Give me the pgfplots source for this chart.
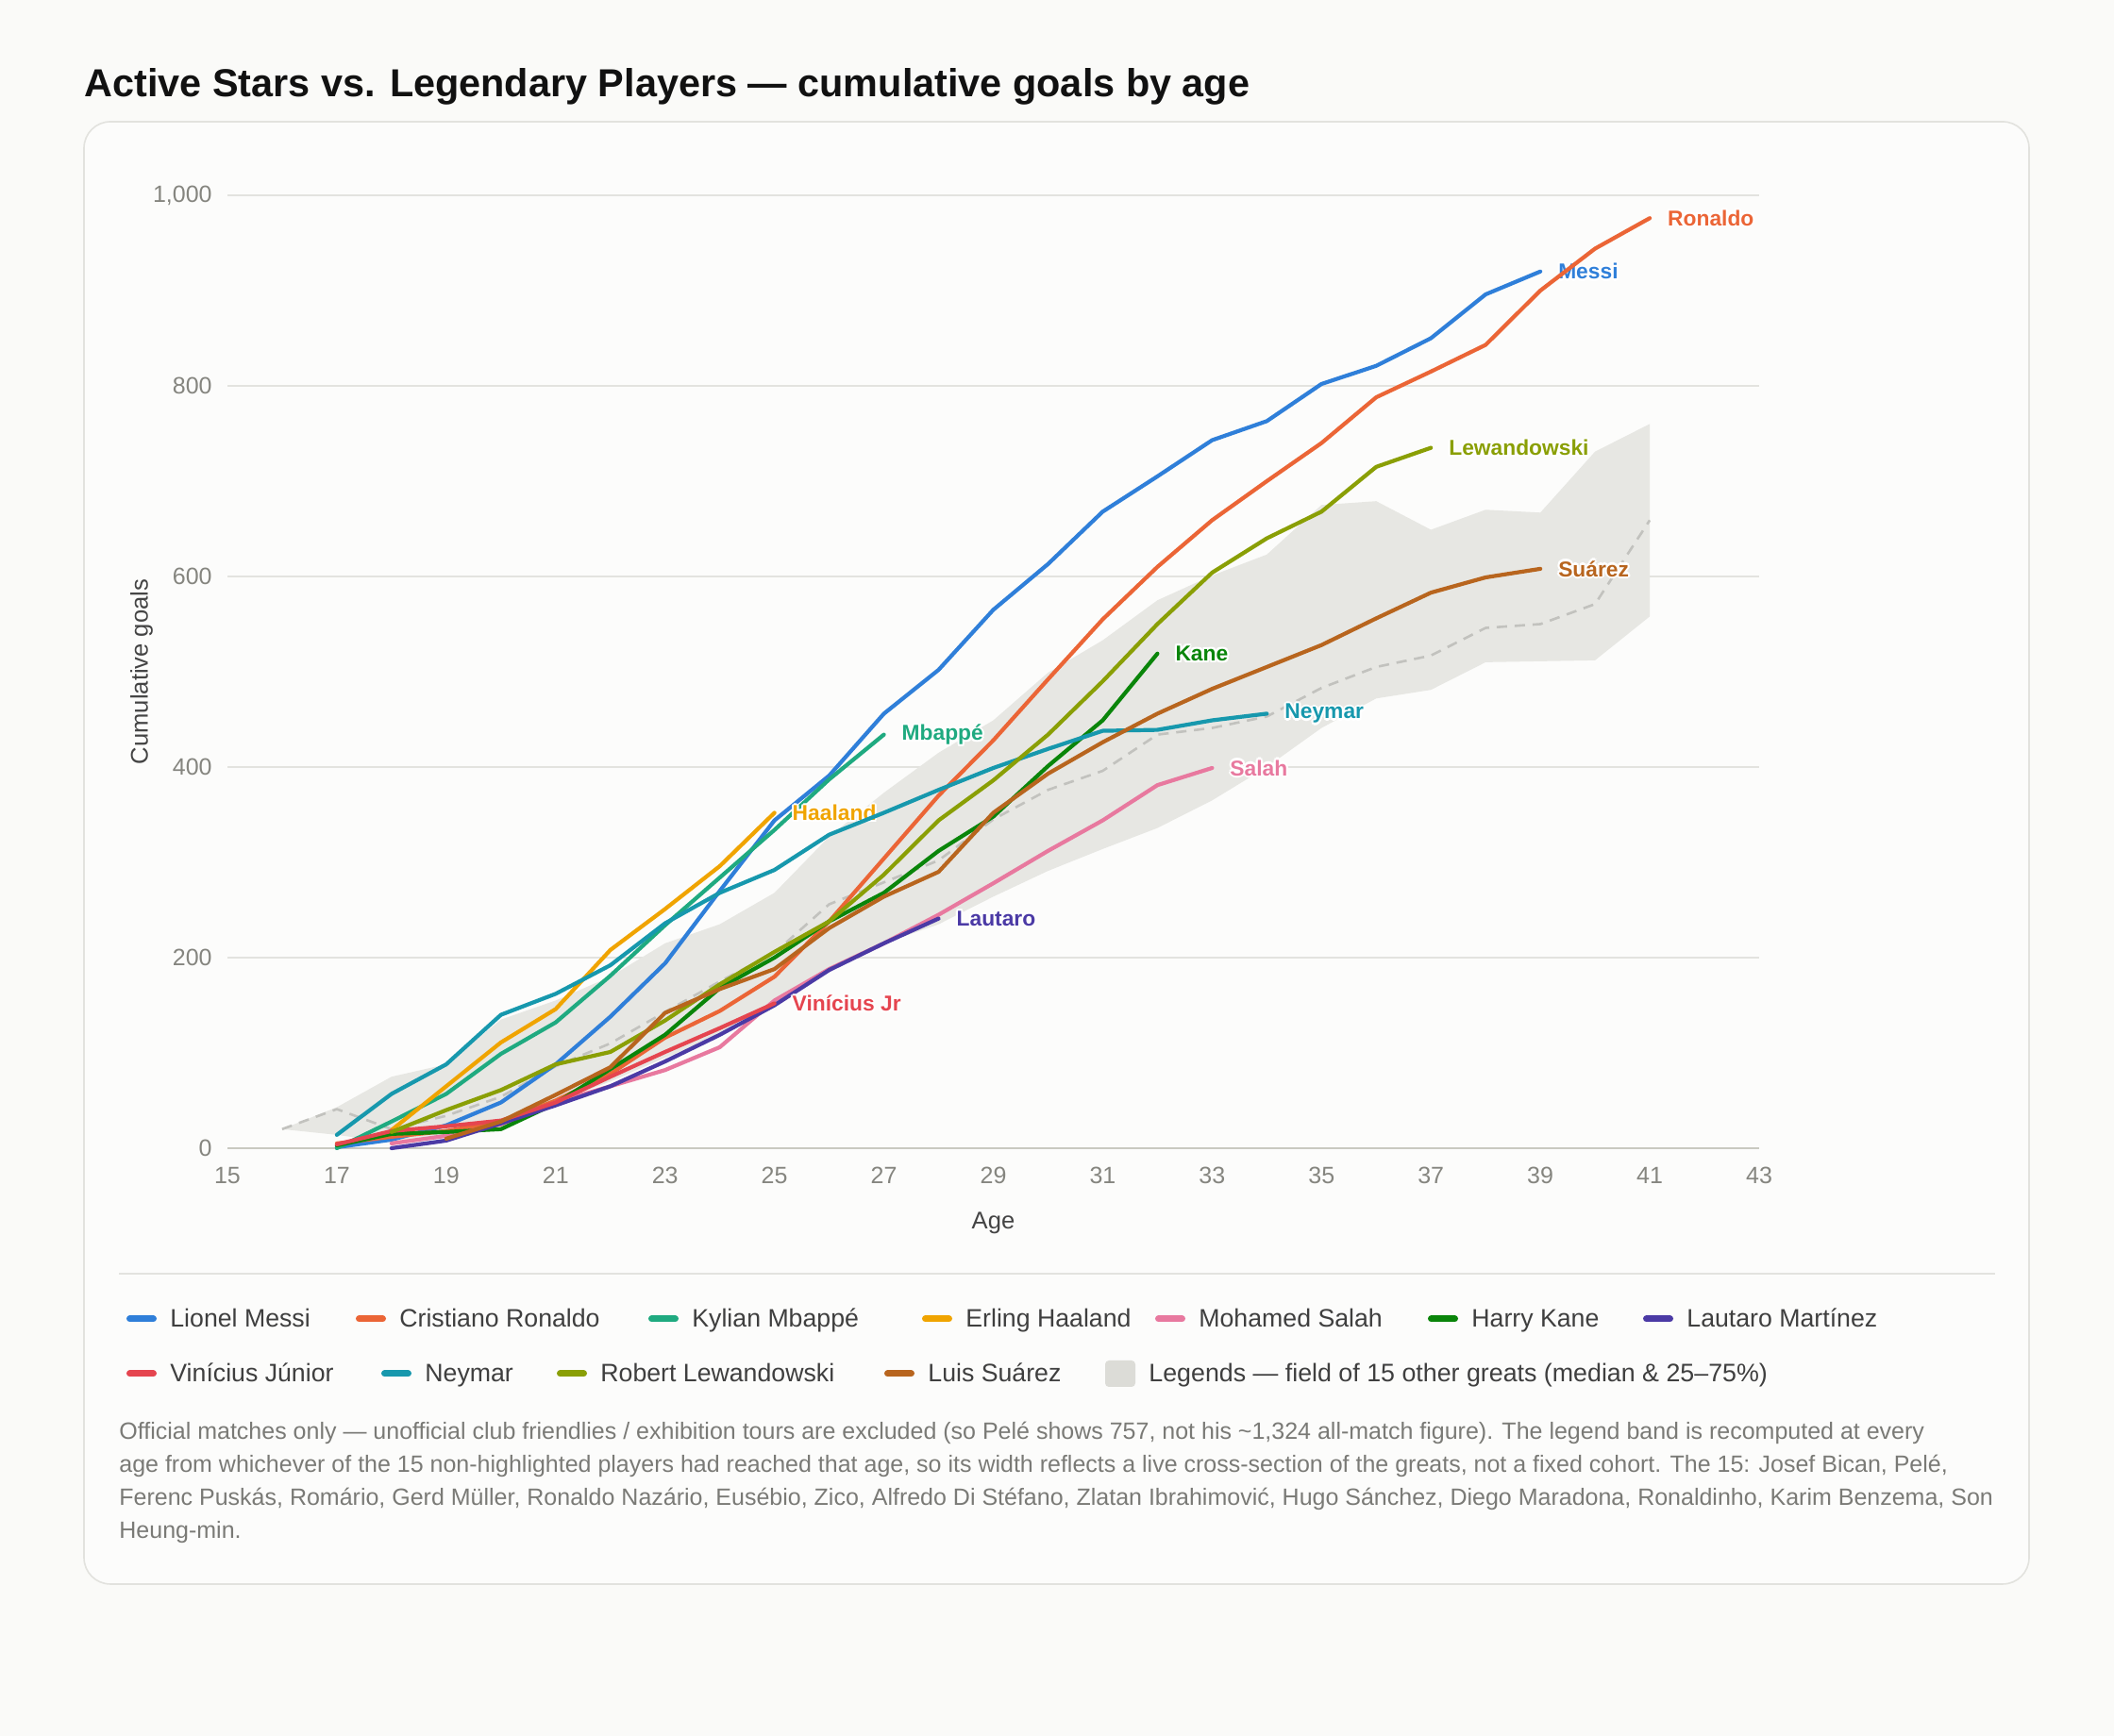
\documentclass[border=0pt]{standalone}
\usepackage{fontspec}
\setmainfont{Liberation Sans}
\usepackage{pgfplots}
\pgfplotsset{compat=1.18}

\definecolor{bg}{HTML}{FAFAF8}
\definecolor{card}{HTML}{FCFCFB}
\definecolor{cardline}{HTML}{E2E2DE}
\definecolor{titlec}{HTML}{111111}
\definecolor{gridc}{HTML}{E3E3DF}
\definecolor{basec}{HTML}{C9C9C1}
\definecolor{tickc}{HTML}{85857F}
\definecolor{labc}{HTML}{444444}
\definecolor{legc}{HTML}{3F3F3F}
\definecolor{notec}{HTML}{7A7A76}
\definecolor{bandc}{HTML}{E7E7E3}
\definecolor{bandkey}{HTML}{DCDCD7}
\definecolor{medc}{HTML}{C2C2BE}
\definecolor{messi}{HTML}{2F7FD9}
\definecolor{ronaldo}{HTML}{EB6536}
\definecolor{mbappe}{HTML}{1FAA80}
\definecolor{haaland}{HTML}{F0A400}
\definecolor{salah}{HTML}{E8799F}
\definecolor{kane}{HTML}{0A850A}
\definecolor{lautaro}{HTML}{4B3AA5}
\definecolor{vini}{HTML}{E5454F}
\definecolor{neymar}{HTML}{1798AD}
\definecolor{lewa}{HTML}{8A9F05}
\definecolor{suarez}{HTML}{B8651E}

% white halo behind the end-of-line labels
\newcommand\hc[3]{\rlap{\kern#1\raisebox{#2}{\textcolor{white}{#3}}}}
\newcommand\halo[1]{\hc{1.1pt}{0pt}{#1}\hc{-1.1pt}{0pt}{#1}\hc{0pt}{1.1pt}{#1}\hc{0pt}{-1.1pt}{#1}%
  \hc{0.8pt}{0.8pt}{#1}\hc{-0.8pt}{0.8pt}{#1}\hc{0.8pt}{-0.8pt}{#1}\hc{-0.8pt}{-0.8pt}{#1}#1}

\tikzset{endlab/.style={pos=1, anchor=west, xshift=8.5pt, inner sep=0pt,
  font=\fontsize{11.4}{13}\selectfont\bfseries}}

% legend entry: line key at (x,y), label baseline a little lower
\newcommand\legline[4]{%
  \draw[#1, line width=3.5pt, line cap=round] (#2+1.75,#3) -- (#2+14.25,#3);
  \node[anchor=base west, inner sep=0pt, text=legc, font=\fontsize{13.35}{16}\selectfont] at (#2+23,#3-4.5) {#4};}

\begin{document}
\begin{tikzpicture}[x=1pt,y=1pt]
\fill[bg] (0,0) rectangle (1120,920);
\filldraw[fill=card, draw=cardline, line width=0.8pt, rounded corners=14pt] (44.5,80.5) rectangle (1075,855.5);
\node[anchor=base west, inner sep=0pt, text=titlec, font=\fontsize{20.7}{25}\selectfont\bfseries] at (44.5,868.5)
  {Active Stars vs. Legendary Players — cumulative goals by age};

\begin{axis}[
  at={(120.5pt,311.5pt)}, anchor=south west,
  scale only axis, width=811.5pt, height=505pt,
  xmin=15, xmax=43, ymin=0, ymax=1000,
  xtick={15,17,...,43}, ytick={200,400,...,1000},
  extra y ticks={0},
  extra y tick style={grid style={color=basec, line width=1pt}},
  ymajorgrids, grid style={color=gridc, line width=0.75pt},
  axis line style={draw=none},
  major tick length=0pt,
  tick label style={font=\fontsize{12.5}{15}\selectfont, text=tickc},
  xticklabel={\pgfmathprintnumber[assume math mode=true]{\tick}},
  yticklabel={\pgfmathprintnumber[1000 sep={,},assume math mode=true]{\tick}},
  xticklabel style={anchor=base, yshift=-19pt},
  yticklabel style={anchor=east, xshift=-8pt, inner sep=0pt},
  xlabel={Age}, ylabel={Cumulative goals},
  label style={font=\fontsize{12.8}{15}\selectfont, text=labc},
  xlabel style={at={(axis description cs:0.5,-0.0782)}, anchor=center},
  ylabel style={at={(axis description cs:-0.0561,0.5)}, anchor=center},
  clip=false,
  every axis plot/.append style={mark=none, line width=2.1pt, line join=round, line cap=round},
]

% legends field: 25-75% band (upper edge, then lower edge back), and median
\addplot[fill=bandc, draw=none, forget plot] coordinates {
 (16,20) (17,43) (18,75) (19,88) (20,135) (21,155) (22,180) (23,215) (24,235) (25,268)
 (26,327) (27,373) (28,415) (29,449) (30,499) (31,533) (32,575) (33,601) (34,623) (35,675)
 (36,679) (37,649) (38,670) (39,667) (40,731) (41,760)
 (41,558) (40,512) (39,511) (38,510) (37,481) (36,472) (35,441) (34,400) (33,365) (32,336)
 (31,314) (30,291) (29,264) (28,235) (27,215) (26,185) (25,150) (24,118) (23,95) (22,70)
 (21,48) (20,25) (19,12) (18,6) (17,14) (16,20)};
\addplot[color=medc, line width=1.3pt, dash pattern=on 5.5pt off 4pt, line cap=butt] coordinates {
 (16,20) (17,41) (18,20) (19,34) (20,54) (21,86) (22,110) (23,143) (24,175) (25,205)
 (26,256) (27,279) (28,302) (29,345) (30,376) (31,396) (32,434) (33,441) (34,453) (35,483)
 (36,505) (37,517) (38,546) (39,550) (40,571) (41,659)};

\addplot[color=messi] coordinates {
 (17,1) (18,9) (19,24) (20,48) (21,88) (22,138) (23,194) (24,270) (25,344) (26,391) (27,456)
 (28,502) (29,565) (30,613) (31,668) (32,705) (33,743) (34,763) (35,802) (36,821) (37,850)
 (38,896) (39,920)} node[endlab, text=messi] {\halo{Messi}};
\addplot[color=ronaldo] coordinates {
 (17,5) (18,12) (19,18) (20,28) (21,50) (22,78) (23,116) (24,144) (25,180) (26,238) (27,304)
 (28,370) (29,428) (30,492) (31,555) (32,610) (33,659) (34,700) (35,740) (36,788) (37,815)
 (38,843) (39,900) (40,944) (41,976)} node[endlab, text=ronaldo] {\halo{Ronaldo}};
\addplot[color=mbappe] coordinates {
 (17,0) (18,28) (19,57) (20,99) (21,132) (22,181) (23,234) (24,284) (25,334) (26,387) (27,434)}
 node[endlab, text=mbappe] {\halo{Mbappé}};
\addplot[color=haaland] coordinates {
 (18,19) (19,65) (20,111) (21,146) (22,208) (23,251) (24,296) (25,352)}
 node[endlab, text=haaland] {\halo{Haaland}};
\addplot[color=salah] coordinates {
 (18,5) (19,13) (20,25) (21,48) (22,65) (23,82) (24,106) (25,155) (26,188) (27,215) (28,245)
 (29,278) (30,312) (31,344) (32,381) (33,399)} node[endlab, text=salah] {\halo{Salah}};
\addplot[color=kane] coordinates {
 (17,3) (18,15) (19,17) (20,20) (21,47) (22,83) (23,119) (24,168) (25,200) (26,238) (27,268)
 (28,312) (29,348) (30,401) (31,449) (32,519)} node[endlab, text=kane] {\halo{Kane}};
\addplot[color=lautaro] coordinates {
 (18,0) (19,8) (20,26) (21,45) (22,65) (23,91) (24,119) (25,150) (26,187) (27,215) (28,241)}
 node[endlab, text=lautaro] {\halo{Lautaro}};
\addplot[color=vini] coordinates {
 (17,4) (18,18) (19,23) (20,29) (21,48) (22,75) (23,101) (24,126) (25,152)}
 node[endlab, text=vini] {\halo{Vinícius Jr}};
\addplot[color=neymar] coordinates {
 (17,14) (18,57) (19,88) (20,140) (21,162) (22,192) (23,236) (24,268) (25,292) (26,329)
 (27,352) (28,376) (29,399) (30,419) (31,438) (32,439) (33,449) (34,456)}
 node[endlab, text=neymar] {\halo{Neymar}};
\addplot[color=lewa] coordinates {
 (18,17) (19,40) (20,61) (21,88) (22,101) (23,134) (24,172) (25,206) (26,238) (27,287)
 (28,344) (29,386) (30,434) (31,490) (32,550) (33,604) (34,640) (35,668) (36,715) (37,735)}
 node[endlab, text=lewa] {\halo{Lewandowski}};
\addplot[color=suarez] coordinates {
 (19,10) (20,28) (21,56) (22,85) (23,142) (24,167) (25,188) (26,231) (27,264) (28,290)
 (29,352) (30,393) (31,426) (32,456) (33,482) (34,505) (35,528) (36,556) (37,583) (38,599) (39,608)}
 node[endlab, text=suarez] {\halo{Suárez}};
\end{axis}

% legend
\draw[gridc, line width=1pt] (63,245) -- (1057,245);
\legline{messi}{67}{221}{Lionel Messi}
\legline{ronaldo}{188.5}{221}{Cristiano Ronaldo}
\legline{mbappe}{343.5}{221}{Kylian Mbappé}
\legline{haaland}{488.5}{221}{Erling Haaland}
\legline{salah}{612}{221}{Mohamed Salah}
\legline{kane}{756.5}{221}{Harry Kane}
\legline{lautaro}{870.5}{221}{Lautaro Martínez}
\legline{vini}{67}{192}{Vinícius Júnior}
\legline{neymar}{202}{192}{Neymar}
\legline{lewa}{295}{192}{Robert Lewandowski}
\legline{suarez}{468.5}{192}{Luis Suárez}
\fill[bandkey, rounded corners=2pt] (585.5,185) rectangle (601.5,199);
\node[anchor=base west, inner sep=0pt, text=legc, font=\fontsize{13.4}{16}\selectfont] at (608.5,187.5)
  {Legends — field of 15 other greats (median \& 25–75\%)};

% note
\begin{scope}[every node/.style={anchor=base west, inner sep=0pt, text=notec, font=\fontsize{12.5}{15}\selectfont}]
\node at (63,157) {Official matches only — unofficial club friendlies / exhibition tours are excluded (so Pelé shows 757, not his \textasciitilde1,324 all-match figure). The legend band is recomputed at every};
\node at (63,139.6) {age from whichever of the 15 non-highlighted players had reached that age, so its width reflects a live cross-section of the greats, not a fixed cohort. The 15: Josef Bican, Pelé,};
\node at (63,122.1) {Ferenc Puskás, Romário, Gerd Müller, Ronaldo Nazário, Eusébio, Zico, Alfredo Di Stéfano, Zlatan Ibrahimović, Hugo Sánchez, Diego Maradona, Ronaldinho, Karim Benzema, Son};
\node at (63,104.6) {Heung-min.};
\end{scope}
\end{tikzpicture}
\end{document}
